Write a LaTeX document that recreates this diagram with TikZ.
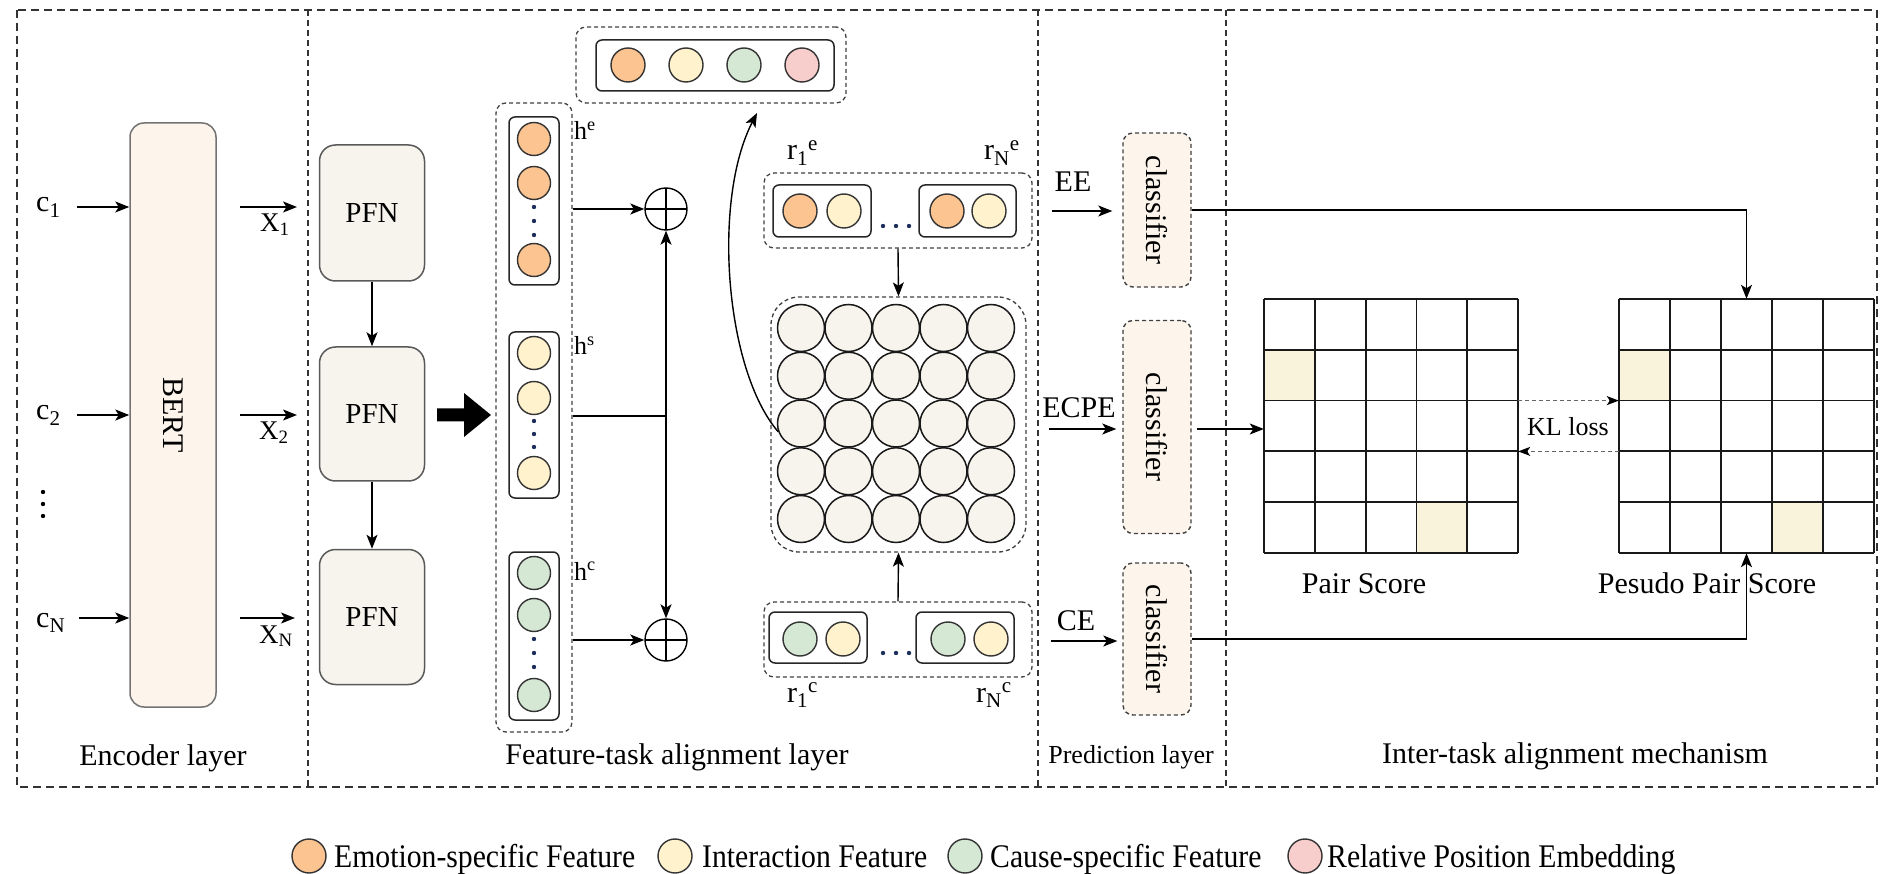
\documentclass[tikz,border=0pt]{standalone}
\usepackage{fontspec}
\usepackage{graphicx}
\setmainfont{Liberation Serif}
\usetikzlibrary{arrows.meta,calc}

\definecolor{emo}{HTML}{FCC491}
\definecolor{inter}{HTML}{FFF2CC}
\definecolor{cause}{HTML}{D5E8D4}
\definecolor{relpos}{HTML}{F8CECC}
\definecolor{cream}{HTML}{FDF5EC}
\definecolor{pfnfill}{HTML}{F6F4EC}
\definecolor{cellhl}{HTML}{FAF3DC}
\definecolor{dotblue}{HTML}{1F2F5C}

\newcommand{\fsz}[1]{\fontsize{#1}{#1}\selectfont}

\begin{document}
\begin{tikzpicture}[x=1pt,y=-1pt,
  font=\fsz{30},
  arr/.style={line width=1.4pt, -{Stealth[length=14pt,width=11pt,inset=3.5pt]}},
  region/.style={draw=black!80, line width=1.8pt, dash pattern=on 8pt off 5pt},
  divider/.style={draw=black!80, line width=1.8pt, dash pattern=on 6pt off 4pt},
  finebox/.style={draw=black!75, line width=1.3pt, dash pattern=on 4pt off 3pt, rounded corners=10pt, inner sep=0pt},
  vecbox/.style={draw=black!85, line width=1.5pt, rounded corners=6pt, inner sep=0pt},
  feat/.style={circle, draw=black!80, line width=1.4pt, minimum size=33pt, inner sep=0pt},
  gcirc/.style={circle, draw=black!90, line width=1.5pt, fill=pfnfill, minimum size=47pt, inner sep=0pt},
  pfn/.style={draw=black!65, line width=1.5pt, fill=pfnfill, rounded corners=16pt, minimum width=105pt, inner sep=0pt, font=\fsz{29}},
  bertbox/.style={draw=black!55, line width=1.5pt, fill=cream, rounded corners=14pt, minimum width=86pt, minimum height=584pt, inner sep=0pt},
  clsbox/.style={draw=black!75, line width=1.4pt, dash pattern=on 4pt off 3pt, fill=cream, rounded corners=10pt, minimum width=68pt, inner sep=0pt},
  oplus/.style={circle, draw, line width=1.4pt, minimum size=42pt, inner sep=0pt,
    path picture={\draw[line width=2pt] (path picture bounding box.north) -- (path picture bounding box.south)
      (path picture bounding box.west) -- (path picture bounding box.east);}},
  cellline/.style={line width=1.8pt, draw=black!90},
  gridnode/.style={minimum width=254pt, minimum height=254pt, inner sep=0pt},
  kl/.style={line width=1.3pt, draw=black!60, dash pattern=on 4pt off 3pt, -{Stealth[length=12pt,width=9pt,inset=3pt,black]}},
  lbl/.style={inner sep=0pt, anchor=base},
  lblw/.style={inner sep=0pt, anchor=base west},
]
\useasboundingbox (0,0) rectangle (1883,874);

% ---- layer frames ----
\draw[region] (17,10) rectangle (1877,787);
\draw[divider] (308,10) -- (308,787);
\draw[divider] (1038,10) -- (1038,787);
\draw[divider] (1226,10) -- (1226,787);

\node[lbl] (encl) at (163,765) {Encoder layer};
\node[lbl] (featl) at (677,764) {Feature-task alignment layer};
\node[lbl, font=\fsz{26}] (predl) at (1131,763) {Prediction layer};
\node[lbl] (interl) at (1575,763) {Inter-task alignment mechanism};

% ---- encoder ----
\coordinate (row1) at (0,207);
\coordinate (row2) at (0,415);
\coordinate (rowN) at (0,618);
\node[bertbox] (bert) at (173,415) {\rotatebox{-90}{BERT}};

\node[lblw] (c1) at (36,212) {c\textsubscript{1}};
\node[lblw] (c2) at (36,420) {c\textsubscript{2}};
\node[lblw] (cN) at (36,627) {c\textsubscript{N}};
\fill (43,492) circle (2.2pt) (43,504) circle (2.2pt) (43,516) circle (2.2pt);

\draw[arr] ([xshift=16pt]c1.east |- row1) -- (bert.west |- row1);
\draw[arr] ([xshift=16pt]c2.east |- row2) -- (bert.west |- row2);
\draw[arr] ([xshift=14pt]cN.east |- rowN) -- (bert.west |- rowN);

\coordinate (x1end) at (297,207);
\coordinate (x2end) at (297,415);
\coordinate (xNend) at (295,618);
\draw[arr, shorten <=23pt] (bert.east |- row1) -- (x1end);
\draw[arr, shorten <=23pt] (bert.east |- row2) -- (x2end);
\draw[arr, shorten <=23pt] (bert.east |- rowN) -- (xNend);
\node[lblw, font=\fsz{27}] (x1) at (260,232) {X\textsubscript{1}};
\node[lblw, font=\fsz{27}] (x2) at (259,440) {X\textsubscript{2}};
\node[lblw, font=\fsz{27}] (xN) at (259,643) {X\textsubscript{N}};

% ---- PFN stack ----
\node[pfn, minimum height=136pt] (pfn1) at (372,213) {PFN};
\node[pfn, minimum height=134pt] (pfn2) at (372,414) {PFN};
\node[pfn, minimum height=135pt] (pfn3) at (372,617) {PFN};
\draw[arr] (pfn1.south) -- (pfn2.north);
\draw[arr] (pfn2.south) -- (pfn3.north);

% block arrow into the feature column
\fill (437,408.5) -- (464,408.5) -- (464,393) -- (491,415) -- (464,437) -- (464,421.5) -- (437,421.5) -- cycle;

% ---- feature column h^e, h^s, h^c ----
\node[finebox, minimum width=76pt, minimum height=629pt] (fbox) at (534,417.5) {};
\node[vecbox, minimum width=50pt, minimum height=168pt] (hebox) at (534,201) {};
\node[vecbox, minimum width=50pt, minimum height=166pt] (hsbox) at (534,415) {};
\node[vecbox, minimum width=50pt, minimum height=168pt] (hcbox) at (534,636) {};

\node[feat, fill=emo] (he1) at (534,139) {};
\node[feat, fill=emo] (he2) at (534,183) {};
\node[feat, fill=emo] (he3) at (534,260) {};
\node[feat, fill=inter] (hs1) at (534,353) {};
\node[feat, fill=inter] (hs2) at (534,398) {};
\node[feat, fill=inter] (hs3) at (534,473) {};
\node[feat, fill=cause] (hc1) at (534,573) {};
\node[feat, fill=cause] (hc2) at (534,615) {};
\node[feat, fill=cause] (hc3) at (534,695) {};
\fill[dotblue] (534,207) circle (2.2pt) (534,221) circle (2.2pt) (534,235) circle (2.2pt);
\fill[dotblue] (534,421) circle (2.2pt) (534,434) circle (2.2pt) (534,447) circle (2.2pt);
\fill[dotblue] (534,639) circle (2.2pt) (534,653) circle (2.2pt) (534,667) circle (2.2pt);

\node[lblw, font=\fsz{26}] (hel) at (574,140) {h\textsuperscript{e}};
\node[lblw, font=\fsz{26}] (hsl) at (574,355) {h\textsuperscript{s}};
\node[lblw, font=\fsz{26}] (hcl) at (574,580) {h\textsuperscript{c}};

% ---- fusion ----
\node[oplus] (op1) at (666,209) {};
\node[oplus] (op2) at (666,640) {};
\coordinate (hsj) at (666,416);
\draw[arr] (fbox.east |- op1) -- (op1.west);
\draw[arr] (fbox.east |- op2) -- (op2.west);
\draw[line width=1.4pt] (fbox.east |- hsj) -- (hsj);
\draw[arr] (hsj) -- (op1.south);
\draw[arr] (hsj) -- (op2.north);

% ---- top vector: feature + relative position ----
\node[finebox, minimum width=270pt, minimum height=76pt] (tvbox) at (711,65) {};
\node[vecbox, minimum width=238pt, minimum height=51pt] (tvin) at (715,65.5) {};
\node[feat, minimum size=34pt, fill=emo] (tv1) at (628,65) {};
\node[feat, minimum size=34pt, fill=inter] (tv2) at (686,65) {};
\node[feat, minimum size=34pt, fill=cause] (tv3) at (744,65) {};
\node[feat, minimum size=34pt, fill=relpos] (tv4) at (802,65) {};

% ---- r^e row ----
\node[finebox, minimum width=268pt, minimum height=75pt] (rebox) at (898,210.5) {};
\node[vecbox, minimum width=98pt, minimum height=52pt] (re1) at (822,211) {};
\node[vecbox, minimum width=97pt, minimum height=52pt] (reN) at (967.5,211) {};
\node[feat, minimum size=34pt, fill=emo] (re1a) at (800,211) {};
\node[feat, minimum size=34pt, fill=inter] (re1b) at (844,211) {};
\node[feat, minimum size=34pt, fill=emo] (reNa) at (947,211) {};
\node[feat, minimum size=34pt, fill=inter] (reNb) at (989,211) {};
\fill[dotblue] (883,226) circle (2.2pt) (896,226) circle (2.2pt) (909,226) circle (2.2pt);
\node[lblw] (r1el) at (787,160) {r\textsubscript{1}\textsuperscript{e}};
\node[lblw] (rNel) at (984,160) {r\textsubscript{N}\textsuperscript{e}};

% ---- r^c row ----
\node[finebox, minimum width=268pt, minimum height=75pt] (rcbox) at (898,639.5) {};
\node[vecbox, minimum width=98pt, minimum height=51pt] (rc1) at (818,637.5) {};
\node[vecbox, minimum width=98pt, minimum height=51pt] (rcN) at (965,637.5) {};
\node[feat, minimum size=34pt, fill=cause] (rc1a) at (800,639) {};
\node[feat, minimum size=34pt, fill=inter] (rc1b) at (843,639) {};
\node[feat, minimum size=34pt, fill=cause] (rcNa) at (948,639) {};
\node[feat, minimum size=34pt, fill=inter] (rcNb) at (991,639) {};
\fill[dotblue] (883,653) circle (2.2pt) (896,653) circle (2.2pt) (909,653) circle (2.2pt);
\node[lblw] (r1cl) at (787,702) {r\textsubscript{1}\textsuperscript{c}};
\node[lblw] (rNcl) at (976,702) {r\textsubscript{N}\textsuperscript{c}};

% ---- pair representation grid ----
\node[finebox, rounded corners=28pt, minimum width=255pt, minimum height=255pt] (gbox) at (898.5,424.5) {};
\foreach \i in {1,...,5} {
  \foreach \j in {1,...,5} {
    \node[gcirc] (g\i\j) at ({801+47.5*(\j-1)},{328+47.75*(\i-1)}) {};
  }
}
\draw[arr] (rebox.south) -- (gbox.north);
\draw[arr] (rcbox.north) -- (gbox.south);

\coordinate (curveEnd) at (757,113);
\draw[arr] (g31.200) .. controls (725,370) and (712,200) .. (curveEnd);

% ---- classifiers ----
\node[clsbox, minimum height=154pt] (cls1) at (1157,210) {\rotatebox{-90}{classifier}};
\node[clsbox, minimum height=213pt] (cls2) at (1157,427) {\rotatebox{-90}{classifier}};
\node[clsbox, minimum height=152pt] (cls3) at (1157,639) {\rotatebox{-90}{classifier}};

\coordinate (eeS) at (1052,211);
\coordinate (ecpeS) at (1049,429);
\coordinate (ceS) at (1051,641);
\draw[arr, shorten >=10pt] (eeS) -- (eeS -| cls1.west);
\draw[arr, shorten >=6pt] (ecpeS) -- (ecpeS -| cls2.west);
\draw[arr, shorten >=5pt] (ceS) -- (ceS -| cls3.west);
\node[lbl] (eel) at (1073,192) {EE};
\node[lbl] (ecpel) at (1079,418) {ECPE};
\node[lbl] (cel) at (1076,630) {CE};

% ---- score grids ----
\node[gridnode] (pair) at (1391,426) {};
\node[gridnode, minimum width=255pt] (pseudo) at (1746.5,426) {};
\fill[cellhl] (1264,349.8) rectangle (1314.8,400.6);
\fill[cellhl] (1416.4,502.2) rectangle (1467.2,553);
\fill[cellhl] (1619,349.8) rectangle (1670,400.6);
\fill[cellhl] (1772,502.2) rectangle (1823,553);
\foreach \k in {0,...,5} {
  \draw[cellline] ({1264+50.8*\k},299) -- ({1264+50.8*\k},553);
  \draw[cellline] (1264,{299+50.8*\k}) -- (1518,{299+50.8*\k});
  \draw[cellline] ({1619+51*\k},299) -- ({1619+51*\k},553);
  \draw[cellline] (1619,{299+50.8*\k}) -- (1874,{299+50.8*\k});
}
\node[lbl] (pairl) at (1364,593) {Pair Score};
\node[lbl] (pseudol) at (1707,593) {Pesudo Pair Score};

\draw[arr, shorten <=5pt] (cls2.east |- ecpeS) -- (pair.west |- ecpeS);
\draw[arr] (cls1.east) -| (pseudo.north);
\draw[arr] (cls3.east) -| (pseudo.south);

\coordinate (klA) at (1568,400.6);
\coordinate (klB) at (1568,451.4);
\draw[kl] (pair.east |- klA) -- (pseudo.west |- klA);
\draw[kl] (pseudo.west |- klB) -- (pair.east |- klB);
\node[lbl, font=\fsz{26}] (kll) at (1568,436) {KL loss};

% ---- legend ----
\node[feat, minimum size=34pt, fill=emo] (lg1) at (309,856) {};
\node[lblw, font=\fsz{33}] (lt1) at (334,867) {\scalebox{0.9}[1]{Emotion-specific Feature}};
\node[feat, minimum size=34pt, fill=inter] (lg2) at (675,856) {};
\node[lblw, font=\fsz{33}] (lt2) at (702,867) {\scalebox{0.9}[1]{Interaction Feature}};
\node[feat, minimum size=34pt, fill=cause] (lg3) at (965,856) {};
\node[lblw, font=\fsz{33}] (lt3) at (990,867) {\scalebox{0.9}[1]{Cause-specific Feature}};
\node[feat, minimum size=34pt, fill=relpos] (lg4) at (1305,856) {};
\node[lblw, font=\fsz{33}] (lt4) at (1327,867) {\scalebox{0.9}[1]{Relative Position Embedding}};
\end{tikzpicture}
\end{document}
